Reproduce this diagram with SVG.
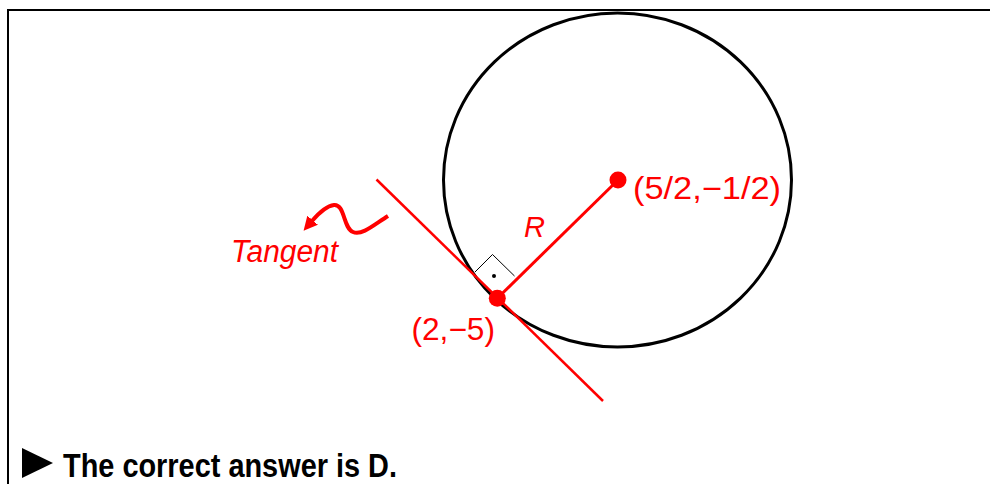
<svg xmlns="http://www.w3.org/2000/svg" width="990" height="484" viewBox="0 0 990 484">
<style>
.red{fill:#FF0000;font-family:"Liberation Sans",Arial,sans-serif;}
.it{font-style:italic;}
.ln{stroke:#FF0000;fill:none;stroke-linecap:butt;}
</style>
<defs>
<marker id="ah" markerUnits="userSpaceOnUse" viewBox="0 0 14 14" markerWidth="14" markerHeight="14" refX="1" refY="7" orient="auto">
<path d="M0,0 L14,7 L0,14 z" fill="#FF0000"/>
</marker>
</defs>
<rect width="990" height="484" fill="#FFFFFF"/>
<path id="frame" d="M8,484 V10 H990" fill="none" stroke="#000" stroke-width="2"/>
<g id="circle">
<ellipse cx="617.5" cy="180" rx="174" ry="167" fill="none" stroke="#000" stroke-width="3"/>
</g>
<g id="connectors">
<line class="ln" x1="376.5" y1="179.5" x2="603" y2="401" stroke-width="2.5"/>
<line class="ln" x1="497.3" y1="298.3" x2="618" y2="180" stroke-width="3"/>
<path class="ln" d="M388,216 C375,224 362,236 353,232 C343,228 345,204 334,205 C326,206 318,214 312,221" stroke-width="4" marker-end="url(#ah)"/>
</g>
<g id="right-angle">
<polyline points="475,272 492.5,254.5 514.5,276" fill="none" stroke="#000" stroke-width="1"/>
<circle cx="494" cy="276" r="2" fill="#000"/>
</g>
<g id="center">
<circle cx="618" cy="180" r="8.5" fill="#FF0000"/>
<text class="red" x="633" y="198.5" font-size="31" textLength="148" lengthAdjust="spacingAndGlyphs">(5/2,−1/2)</text>
</g>
<g id="point">
<circle cx="497.3" cy="298.3" r="8.5" fill="#FF0000"/>
<text class="red" x="411.5" y="340" font-size="31" textLength="83.5" lengthAdjust="spacingAndGlyphs">(2,−5)</text>
</g>
<g id="radius-label">
<text class="red it" x="524" y="236.7" font-size="30" textLength="21" lengthAdjust="spacingAndGlyphs">R</text>
</g>
<g id="tangent-label">
<text class="red it" x="231" y="261.5" font-size="31" textLength="107" lengthAdjust="spacingAndGlyphs">Tangent</text>
</g>
<g id="answer">
<polygon points="22,448 53,463 22,478" fill="#000"/>
<text x="63" y="476.5" font-family="'Liberation Sans',Arial,sans-serif" font-weight="bold" font-size="34" textLength="334" lengthAdjust="spacingAndGlyphs" fill="#000">The correct answer is D.</text>
</g>
</svg>
